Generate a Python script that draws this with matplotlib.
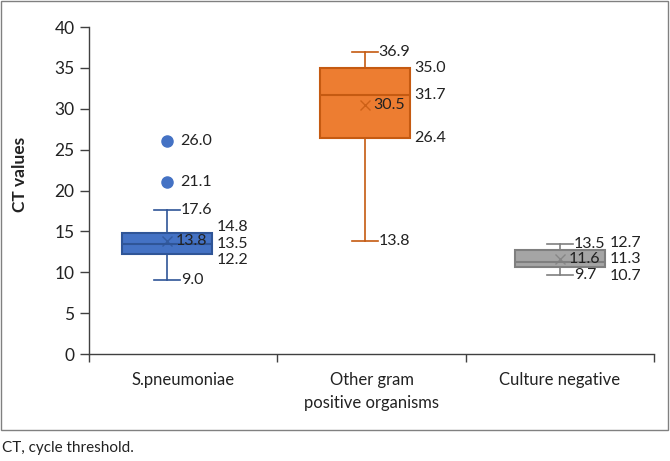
import matplotlib
matplotlib.use("Agg")
import matplotlib.pyplot as plt
from matplotlib.patches import Rectangle
import numpy as np

plt.rcParams['font.family'] = ['Lato', 'DejaVu Sans']

# data
categories = ['S.pneumoniae', 'Other gram\npositive organisms', 'Culture negative']
whisker_low = [9.0, 13.8, 9.7]
q1 = [12.2, 26.4, 10.7]
median = [13.5, 31.7, 11.3]
q3 = [14.8, 35.0, 12.7]
whisker_high = [17.6, 36.9, 13.5]
means = [13.8, 30.5, 11.6]
outliers = [[26.0, 21.1], [], []]

face_colors = ['#4472C4', '#ED7D31', '#A5A5A5']
edge_colors = ['#2F5597', '#C55A11', '#7F7F7F']
positions = [-0.085, 0.963, 2.0]

fig = plt.figure(figsize=(6.7, 4.61), dpi=100)
fig.patches.append(Rectangle((1 / 670, 31 / 461), 667 / 670, 429 / 461, transform=fig.transFigure,
                             fill=False, edgecolor='#808080', lw=1.0))
fig.text(2 / 670, 1 - 448 / 461, 'CT, cycle threshold.', fontsize=11, color='#222222', va='center', ha='left')

ax = fig.add_axes([89 / 670, 107 / 461, 565 / 670, 327 / 461])

px = 1 / 188.3  # one pixel in x data units
lab_fs = 11.5


def spread(vals, gap):
    # push label y-positions apart (in data units), keeping them centred
    v = list(vals)
    for _ in range(50):
        for i in range(len(v) - 1):
            if v[i] - v[i + 1] < gap:
                mid = (v[i] + v[i + 1]) / 2
                v[i] = mid + gap / 2
                v[i + 1] = mid - gap / 2
    return v


for i in range(3):
    stats = [dict(whislo=whisker_low[i], q1=q1[i], med=median[i], q3=q3[i], whishi=whisker_high[i],
                  mean=means[i], fliers=outliers[i])]
    ax.bxp(stats, positions=[positions[i]], widths=90 * px, capwidths=26 * px, patch_artist=True,
           showmeans=True, showfliers=True, manage_ticks=False,
           boxprops=dict(facecolor=face_colors[i], edgecolor=edge_colors[i], linewidth=1.5),
           medianprops=dict(color=edge_colors[i], linewidth=1.5),
           whiskerprops=dict(color=edge_colors[i], linewidth=1.2),
           capprops=dict(color=edge_colors[i], linewidth=1.2),
           meanprops=dict(marker='x', markeredgecolor=edge_colors[i], markersize=7, markeredgewidth=1.0,
                          alpha=0.8),
           flierprops=dict(marker='o', markerfacecolor=face_colors[i], markeredgecolor=face_colors[i],
                           markersize=8))
    p = positions[i]
    # whisker labels
    for v in [whisker_low[i], whisker_high[i]]:
        ax.text(p + 14 * px, v, f'{v:.1f}', fontsize=lab_fs, va='center', ha='left', color='#222222')
    # mean label
    ax.text(p + 9 * px, means[i], f'{means[i]:.1f}', fontsize=lab_fs, va='center', ha='left', color='#222222')
    # box labels
    ys = spread([q3[i], median[i], q1[i]], 2.0)
    for v, y in zip([q3[i], median[i], q1[i]], ys):
        ax.text(p + 50 * px, y, f'{v:.1f}', fontsize=lab_fs, va='center', ha='left', color='#222222')
    for v in outliers[i]:
        ax.text(p + 13 * px, v, f'{v:.1f}', fontsize=lab_fs, va='center', ha='left', color='#222222')

ax.set_xlim(-0.5, 2.5)
ax.set_ylim(0, 40)
ax.set_yticks(np.arange(0, 45, 5))
ax.spines['top'].set_visible(False)
ax.spines['right'].set_visible(False)
for s in ['left', 'bottom']:
    ax.spines[s].set_color('#404040')
    ax.spines[s].set_linewidth(1.0)
ax.tick_params(axis='y', direction='out', length=6.5, width=1, color='#404040', labelsize=12.5,
               labelcolor='#222222', pad=4)
ax.set_xticks([0, 1, 2])
ax.set_xticklabels(categories, fontsize=12, color='#222222', linespacing=1.55)
ax.tick_params(axis='x', which='major', length=0, pad=13)
ax.set_xticks([-0.5, 0.5, 1.5, 2.5], minor=True)
ax.tick_params(axis='x', which='minor', direction='out', length=6, width=1, color='#404040')
ax.set_ylabel('CT values', fontsize=12.5, fontweight='bold', color='#222222')
ax.yaxis.set_label_coords(-0.108, 0.55)

fig.savefig('out.png', dpi=100)
